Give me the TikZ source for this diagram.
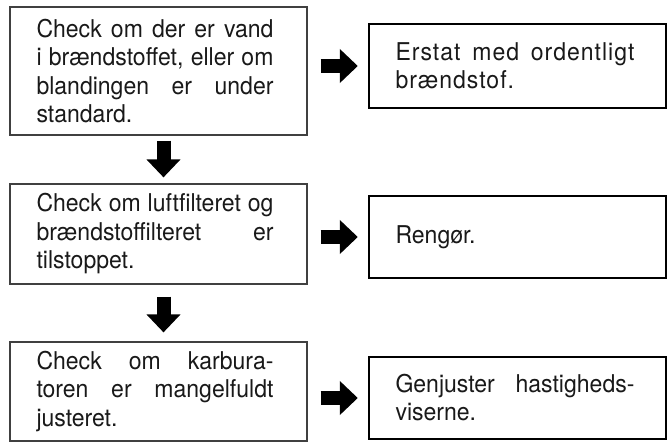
\documentclass[tikz,border=0pt]{standalone}
\usepackage{fontspec}
\setmainfont{TeX Gyre Heros}[FakeStretch=0.94]
\usepackage{tikz}
\usetikzlibrary{arrows.meta, positioning, calc}

\tikzset{
  checkbox/.style={draw=black!75, line width=1.2pt, text=black!90, text width=244pt, inner xsep=26.5pt, inner ysep=0pt, align=justify, execute at begin node={\rightskip=7pt\relax}, font=\fontsize{24.5}{28.5}\selectfont},
  fixbox/.style={draw=black, line width=2.4pt, text=black!90, text width=244pt, inner xsep=26.5pt, inner ysep=0pt, minimum height=82pt, align=justify, execute at begin node={\rightskip=5pt\relax}, font=\fontsize{24.5}{28}\selectfont},
  blockarrow/.style={line width=14pt, -{Triangle[width=33pt, length=18pt]}}
}

\begin{document}
\begin{tikzpicture}
\useasboundingbox (0,0) rectangle (671pt,-445pt);

\node[checkbox, minimum height=128pt] (c1) at (158.5pt,-71pt) {Check om der er vand\linebreak i brændstoffet, eller om\linebreak blandingen er under\linebreak standard.};
\node[checkbox, minimum height=100pt] (c2) at (158.5pt,-234pt) {Check om luftfilteret og\linebreak brændstoffilteret er\linebreak tilstoppet.};
\node[checkbox, minimum height=99pt] (c3) at (158.5pt,-391.5pt) {Check om karbura-\linebreak toren er mangelfuldt\linebreak justeret.};

\node[fixbox, minimum height=84pt, font=\fontsize{24.5}{28}\selectfont\addfontfeature{LetterSpace=4}] (r1) at (517.5pt,-66pt) {Erstat med ordentligt\linebreak brændstof.};
\node[fixbox] (r2) at (517.5pt,-237pt) {Rengør.};
\node[fixbox] (r3) at (517.5pt,-398pt) {Genjuster hastigheds-\linebreak viserne.};

\draw[blockarrow, shorten <=5pt, shorten >=6pt] ([xshift=5pt]c1.south) -- ([xshift=5pt]c2.north);
\draw[blockarrow, shorten <=12pt, shorten >=9pt] ([xshift=5pt]c2.south) -- ([xshift=5pt]c3.north);

\draw[blockarrow, shorten <=13pt, shorten >=10pt] (c1.east |- r1.west) -- (r1.west);
\draw[blockarrow, shorten <=13pt, shorten >=10pt] (c2.east |- r2.west) -- (r2.west);
\draw[blockarrow, shorten <=13pt, shorten >=10pt] (c3.east |- r3.west) -- (r3.west);
\end{tikzpicture}
\end{document}
